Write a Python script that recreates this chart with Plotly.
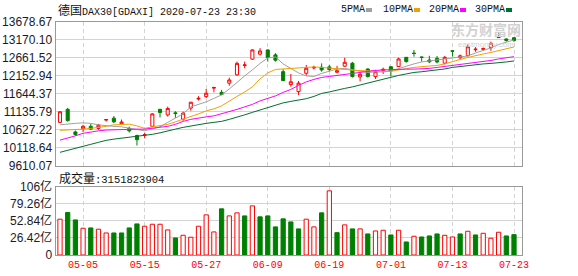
import plotly.graph_objects as go

# ---------------- data ----------------
dates = ['04-29','04-30','05-04','05-05','05-06','05-07','05-08','05-11','05-12','05-13',
         '05-14','05-15','05-18','05-19','05-20','05-21','05-22','05-25','05-26','05-27',
         '05-28','05-29','06-02','06-03','06-04','06-05','06-08','06-09','06-10','06-11',
         '06-12','06-15','06-16','06-17','06-18','06-19','06-22','06-23','06-24','06-25',
         '06-26','06-29','06-30','07-01','07-02','07-03','07-06','07-07','07-08','07-09',
         '07-10','07-13','07-14','07-15','07-16','07-17','07-20','07-21','07-22','07-23']

opens = [10830, 11200, 10560, 10650, 10720, 10660, 10895, 10950, 10790, 10660,
         10460, 10465, 10720, 11200, 11040, 11100, 10920, 11235, 11490, 11560,
         11800, 11680, 11940, 12175, 12440, 12620, 12760, 12880, 12740, 12265,
         11900, 11700, 12220, 12370, 12390, 12400, 12250, 12420, 12505, 12115,
         12340, 12125, 12300, 12405, 12410, 12670, 12790, 12680, 12595, 12640,
         12505, 12855, 12660, 12720, 12885, 12900, 12945, 13240, 13190, 13225]
highs = [11150, 11240, 10600, 10760, 10785, 10785, 10925, 11010, 10910, 10710,
         10480, 10540, 11090, 11210, 11275, 11145, 11135, 11410, 11570, 11775,
         11840, 11750, 12095, 12550, 12550, 12900, 12930, 12890, 12790, 12335,
         12200, 12000, 12455, 12435, 12500, 12455, 12430, 12660, 12540, 12265,
         12360, 12315, 12380, 12420, 12660, 12680, 12880, 12685, 12715, 12710,
         12710, 12860, 12750, 13040, 12960, 12950, 13115, 13350, 13205, 13240]
lows = [10810, 10850, 10450, 10555, 10615, 10620, 10855, 10810, 10790, 10545,
        10175, 10380, 10710, 10970, 10995, 10960, 10875, 11160, 11450, 11515,
        11680, 11600, 11865, 12150, 12360, 12600, 12720, 12550, 12550, 11990,
        11840, 11605, 12155, 12325, 12265, 12270, 12220, 12400, 12100, 11990,
        12100, 12060, 12200, 12125, 12400, 12520, 12690, 12550, 12505, 12500,
        12470, 12690, 12600, 12690, 12830, 12860, 12855, 13225, 13110, 13110]
closes = [11130, 10880, 10490, 10720, 10640, 10750, 10910, 10845, 10840, 10590,
          10340, 10480, 11070, 11110, 11225, 11080, 11090, 11400, 11510, 11655,
          11815, 11620, 12030, 12500, 12455, 12880, 12850, 12665, 12590, 12015,
          11980, 11940, 12360, 12385, 12315, 12325, 12290, 12530, 12125, 12190,
          12125, 12265, 12330, 12285, 12625, 12550, 12780, 12670, 12545, 12540,
          12670, 12845, 12715, 12970, 12900, 12915, 13065, 13230, 13150, 13145]

ma5 = [10760, 10788, 10802, 10817, 10802, 10760, 10732, 10718, 10704, 10661,
       10619, 10591, 10647, 10704, 10831, 10944, 11071, 11269, 11339, 11410,
       11509, 11608, 11777, 11975, 12145, 12314, 12498, 12653, 12681, 12484,
       12356, 12229, 12145, 12130, 12215, 12286, 12342, 12356, 12314, 12272,
       12243, 12258, 12258, 12286, 12356, 12427, 12484, 12540, 12568, 12597,
       12625, 12639, 12667, 12710, 12794, 12865, 12936, 13035, 13105, 13162]
ma10 = [10605, 10610, 10619, 10639, 10661, 10681, 10718, 10760, 10774, 10780,
        10732, 10661, 10704, 10732, 10774, 10845, 10915, 10995, 11071, 11156,
        11212, 11297, 11438, 11565, 11692, 11834, 12060, 12229, 12328, 12342,
        12348, 12356, 12385, 12399, 12385, 12362, 12342, 12328, 12308, 12294,
        12286, 12272, 12266, 12272, 12314, 12356, 12385, 12407, 12427, 12441,
        12484, 12554, 12611, 12667, 12724, 12766, 12808, 12865, 12907, 12964]
ma20 = [10328, 10379, 10449, 10520, 10562, 10591, 10613, 10624, 10633, 10639,
        10639, 10639, 10661, 10689, 10718, 10774, 10859, 10915, 10958, 10986,
        11014, 11071, 11127, 11198, 11269, 11339, 11438, 11509, 11579, 11678,
        11763, 11876, 11975, 12046, 12102, 12130, 12159, 12187, 12221, 12249,
        12272, 12300, 12314, 12328, 12334, 12337, 12337, 12342, 12356, 12385,
        12413, 12441, 12464, 12484, 12512, 12540, 12582, 12625, 12653, 12690]
ma30 = [9983, 10045, 10102, 10153, 10209, 10266, 10322, 10356, 10384, 10407,
        10427, 10449, 10492, 10534, 10576, 10639, 10689, 10732, 10766, 10802,
        10831, 10859, 10915, 10972, 11043, 11113, 11184, 11255, 11325, 11382,
        11424, 11452, 11500, 11565, 11650, 11692, 11749, 11791, 11834, 11890,
        11938, 11989, 12046, 12102, 12159, 12201, 12243, 12263, 12286, 12314,
        12342, 12385, 12413, 12441, 12464, 12484, 12498, 12512, 12540, 12568]

# volume in 亿 (1e8)
volumes = [55.4, 65.7, 54.3, 41.4, 41.9, 39.9, 34.1, 34.1, 34.1, 41.9,
           48.1, 44.5, 47.6, 47.6, 38.8, 26.4, 30.5, 27.5, 44.5, 62.1,
           35.7, 71.4, 60.5, 65.2, 60.5, 76.0, 59.0, 60.5, 43.5, 55.9,
           51.2, 40.4, 55.4, 43.5, 65.2, 99.3, 34.6, 46.6, 40.4, 40.4,
           32.6, 37.2, 38.3, 31.0, 38.3, 20.2, 29.0, 27.9, 29.5, 32.6,
           30.5, 27.9, 32.6, 36.7, 31.0, 33.6, 25.9, 35.2, 29.5, 31.5]

x_labels = ['05-05', '05-15', '05-27', '06-09', '06-19', '07-01', '07-13', '07-23']
price_ticks = [9610.07, 10118.64, 10627.22, 11135.79, 11644.37, 12152.94, 12661.52, 13170.10, 13678.67]
vol_ticks = [0, 26.42, 52.84, 79.26, 105.68]
vol_tick_text = ['0', '26.42亿', '52.84亿', '79.26亿', '106亿']
title_name = '德国'
title_rest = 'DAX30[GDAXI] 2020-07-23 23:30'
vol_label = '成交量'
last_volume = '3151823904'
ma_names = ['5PMA', '10PMA', '20PMA', '30PMA']

# ---------------- styles ----------------
W, H = 578, 276
L, R = 55.5, 522
RED = '#ff0000'
GREEN = '#008000'
MA_COLORS = ['#a0a0a0', '#f0a000', '#ff00ff', '#006f31']
GRID = '#d3d3d3'
BORDER = '#999999'
MONO = 'Liberation Mono, DejaVu Sans Mono, monospace'
CJK = 'Noto Sans CJK SC'

def px(x):
    return x / W

def py(y):
    return 1 - y / H

fig = go.Figure()

fig.add_trace(go.Candlestick(
    x=dates, open=opens, high=highs, low=lows, close=closes,
    increasing=dict(line=dict(color=RED, width=1), fillcolor='#ffffff'),
    decreasing=dict(line=dict(color=GREEN, width=1), fillcolor=GREEN),
    whiskerwidth=0, xaxis='x', yaxis='y', showlegend=False, hoverinfo='skip'))

for series, col in zip([ma5, ma10, ma20, ma30], MA_COLORS):
    fig.add_trace(go.Scatter(x=dates, y=series, mode='lines',
                             line=dict(color=col, width=1),
                             xaxis='x', yaxis='y', showlegend=False, hoverinfo='skip'))

up = [True] + [closes[i] >= closes[i - 1] for i in range(1, len(closes))]
up_x = [d for d, u in zip(dates, up) if u]
up_v = [v for v, u in zip(volumes, up) if u]
dn_x = [d for d, u in zip(dates, up) if not u]
dn_v = [v for v, u in zip(volumes, up) if not u]
fig.add_trace(go.Bar(x=up_x, y=up_v, width=0.55,
                     marker=dict(color='#ffffff', line=dict(color=RED, width=1)),
                     xaxis='x2', yaxis='y2', showlegend=False, hoverinfo='skip'))
fig.add_trace(go.Bar(x=dn_x, y=dn_v, width=0.55,
                     marker=dict(color=GREEN, line=dict(color=GREEN, width=1)),
                     xaxis='x2', yaxis='y2', showlegend=False, hoverinfo='skip'))

xr = [-0.585, 60.04]
common_x = dict(type='category', domain=[px(L), px(R)], range=xr,
                categoryorder='array', categoryarray=dates,
                tickmode='array', tickvals=x_labels, ticks='',
                showgrid=True, gridcolor=GRID, griddash='4px,3px', gridwidth=1,
                showline=True, linecolor=BORDER, linewidth=1, mirror=True,
                zeroline=False, fixedrange=True, automargin=False)

fig.update_layout(
    width=W, height=H, margin=dict(l=0, r=0, t=0, b=0, pad=0, autoexpand=False),
    paper_bgcolor='white', plot_bgcolor='white',
    boxgap=0.43, barmode='overlay',
    xaxis=dict(**common_x, anchor='y', showticklabels=False,
               rangeslider=dict(visible=False)),
    yaxis=dict(domain=[py(165.5), py(21.7)], range=[price_ticks[0], price_ticks[-1]],
               tickmode='array', tickvals=price_ticks,
               ticktext=['%.2f' % v for v in price_ticks], ticks='',
               tickfont=dict(family='Liberation Sans, Arial', size=12, color='#1a1a2a'),
               showgrid=True, gridcolor=GRID, gridwidth=1,
               showline=True, linecolor=BORDER, linewidth=1, mirror=True,
               zeroline=False, anchor='x', fixedrange=True, automargin=False),
    xaxis2=dict(**common_x, anchor='y2', showticklabels=True,
                tickfont=dict(family=MONO, size=10, color=RED)),
    yaxis2=dict(domain=[py(255), py(186.7)], range=[0, vol_ticks[-1]],
                tickmode='array', tickvals=vol_ticks, ticktext=vol_tick_text, ticks='',
                tickfont=dict(family='Liberation Sans, Arial, ' + CJK, size=12, color='#1a1a2a'),
                showgrid=True, gridcolor=GRID, gridwidth=1,
                showline=True, linecolor=BORDER, linewidth=1, mirror=True,
                zeroline=False, anchor='x2', fixedrange=True, automargin=False),
)

ann = []
ann.append(dict(xref='paper', yref='paper', x=px(L), y=py(9.5), xanchor='left', yanchor='middle',
                text='<span style="font-family:%s;font-size:12px">%s</span>%s' % (CJK, title_name, title_rest),
                showarrow=False, font=dict(family=MONO, size=10, color='#111111')))
ann.append(dict(xref='paper', yref='paper', x=px(57), y=py(177), xanchor='left', yanchor='middle',
                text='<span style="font-family:%s;font-size:12px">%s</span>:%s' % (CJK, vol_label, last_volume),
                showarrow=False, font=dict(family=MONO, size=10.5, color='#111111')))

leg_x = [339, 381, 427, 473]
sq_x = [366, 414, 460, 506]
shapes = []
for name, lx, sx, col in zip(ma_names, leg_x, sq_x, MA_COLORS):
    ann.append(dict(xref='paper', yref='paper', x=px(lx), y=py(9.5), xanchor='left', yanchor='middle',
                    text=name, showarrow=False, font=dict(family=MONO, size=10, color='#111111')))
    shapes.append(dict(type='rect', xref='paper', yref='paper', x0=px(sx), x1=px(sx + 6),
                       y0=py(12), y1=py(8), fillcolor=col, line=dict(width=0)))

# watermark
ann.append(dict(xref='paper', yref='paper', x=px(486), y=py(29), xanchor='center', yanchor='middle',
                text='<b>东方财富网</b>', showarrow=False,
                font=dict(family=CJK, size=14, color='#d2d2d2')))
ann.append(dict(xref='paper', yref='paper', x=px(486), y=py(44.5), xanchor='center', yanchor='middle',
                text='eastmoney.com', showarrow=False,
                font=dict(family='Liberation Sans', size=8, color='#d2d2d2')))

fig.update_layout(annotations=ann, shapes=shapes)
fig.write_html('out.html')
